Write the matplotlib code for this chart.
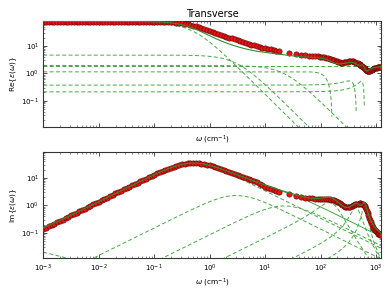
import numpy as np
import matplotlib
matplotlib.use("Agg")
import matplotlib.pyplot as plt
from matplotlib.ticker import FixedLocator, LogLocator, NullFormatter, LogFormatterSciNotation

# ---------------- data ----------------
# low-frequency set: log-spaced sampling 1e-3 ... 10**1.25 cm^-1
w_lo = np.logspace(-3, 1.25, 86)
re_lo = [74.6, 74.6, 74.6, 74.6, 74.6, 74.6, 74.6, 74.6, 74.6, 74.6,
         74.6, 74.6, 74.6, 74.6, 74.6, 74.6, 74.6, 74.6, 74.6, 74.6,
         74.6, 74.6, 74.6, 74.5, 74.5, 74.5, 74.5, 74.4, 74.4, 74.4,
         74.3, 74.3, 74.2, 74.2, 74.1, 74.1, 74.0, 73.9, 73.8, 73.7,
         73.6, 73.4, 73.2, 73.0, 72.7, 72.4, 72.0, 71.3, 70.4, 68.4,
         66.0, 63.2, 60.3, 57.3, 54.3, 51.6, 49.0, 45.5, 42.2, 38.7,
         35.5, 32.5, 29.9, 27.6, 25.5, 23.6, 21.8, 20.1, 18.6, 17.3,
         16.0, 14.9, 13.8, 12.9, 12.0, 11.2, 10.5, 9.8, 9.2, 8.7,
         8.2, 7.8, 7.4, 7.0, 6.7, 6.4]
im_lo = [0.138, 0.154, 0.173, 0.194, 0.218, 0.245, 0.275, 0.308, 0.346, 0.388,
         0.435, 0.488, 0.548, 0.615, 0.690, 0.774, 0.868, 0.974, 1.093, 1.226,
         1.376, 1.544, 1.732, 1.944, 2.179, 2.44, 2.74, 3.07, 3.45, 3.87,
         4.33, 4.86, 5.44, 6.09, 6.82, 7.64, 8.55, 9.55, 10.66, 11.89,
         13.23, 14.70, 16.29, 18.02, 19.83, 21.74, 23.71, 25.70, 27.66, 29.51,
         31.20, 32.63, 33.73, 34.46, 34.75, 34.61, 34.04, 33.09, 31.82, 30.31,
         28.67, 26.89, 25.08, 23.29, 21.55, 19.89, 18.32, 16.87, 15.50, 14.24,
         13.07, 11.98, 10.97, 10.04, 9.19, 8.37, 7.64, 6.99, 6.13, 5.45,
         4.84, 4.36, 3.93, 3.57, 3.27, 3.03]

# high-frequency set
w_hi = [27, 36, 44, 53, 62, 71, 80, 89, 98, 107, 116, 125, 135, 145, 155, 165,
        175, 185, 195, 205, 218, 232, 246, 260, 275, 290, 305, 320, 340, 360,
        380, 400, 420, 440, 460, 480, 500, 520, 540, 560, 580, 600, 620, 640,
        660, 680, 700, 725, 750, 775, 800, 830, 860, 890, 920, 950, 985, 1020,
        1055, 1090, 1125, 1160, 1195]
re_hi = [5.3, 5.0, 4.8, 4.6, 4.45, 4.3, 4.2, 4.1, 4.0, 3.9, 3.8, 3.7, 3.6, 3.45,
         3.3, 3.15, 3.0, 2.85, 2.7, 2.6, 2.5, 2.45, 2.45, 2.5, 2.55, 2.6, 2.65,
         2.7, 2.75, 2.75, 2.7, 2.6, 2.5, 2.4, 2.3, 2.2, 2.1, 2.0, 1.9, 1.8, 1.7,
         1.6, 1.5, 1.4, 1.32, 1.26, 1.22, 1.2, 1.22, 1.26, 1.3, 1.35, 1.4, 1.45,
         1.5, 1.53, 1.57, 1.6, 1.63, 1.66, 1.69, 1.71, 1.73]
im_hi = [2.6, 2.15, 1.98, 1.9, 1.86, 1.82, 1.78, 1.75, 1.73, 1.72, 1.72, 1.72,
         1.71, 1.69, 1.65, 1.6, 1.54, 1.47, 1.39, 1.3, 1.2, 1.1, 1.02, 0.96,
         0.91, 0.88, 0.87, 0.88, 0.91, 0.96, 1.01, 1.06, 1.1, 1.13, 1.16, 1.18,
         1.19, 1.19, 1.18, 1.16, 1.12, 1.05, 0.96, 0.86, 0.75, 0.64, 0.54, 0.44,
         0.36, 0.3, 0.25, 0.2, 0.17, 0.15, 0.135, 0.125, 0.115, 0.107, 0.1,
         0.095, 0.09, 0.086, 0.082]

# ---------------- fit model parameters ----------------
eps_inf = 1.9
debye_deps = [68.0, 4.6, 1.92]
debye_w0 = [0.5, 3.0, 22.0]
lor_deps = [1.13, 0.37, 0.21]
lor_w0 = [160.0, 440.0, 615.0]
lor_gamma = [150.0, 200.0, 143.0]
tail_amp = 0.02      # Im value at 1e-3 cm^-1
tail_exp = 0.5

xlim = (1e-3, 1200)
ylim_re = (0.011, 79)
ylim_im = (0.012, 86)
xticks = [1e-3, 1e-2, 1e-1, 1e0, 1e1, 1e2, 1e3]
yticks = [1e-1, 1e0, 1e1]

w = np.logspace(-3, np.log10(1250), 1000)
relax = [d / (1 - 1j * w / w0) for d, w0 in zip(debye_deps, debye_w0)]
osc = [d * w0**2 / (w0**2 - w**2 - 1j * g * w)
       for d, w0, g in zip(lor_deps, lor_w0, lor_gamma)]
comps = relax + osc
tail = 1j * tail_amp * (w / 1e-3) ** (-tail_exp)
total = eps_inf + sum(comps) + tail
relax_sum = sum(relax)


def pos(v):
    v = np.asarray(v, dtype=float)
    return np.where(v > 0, v, np.nan)


plt.rcParams['font.family'] = ['DejaVu Sans']
plt.rcParams['mathtext.fontset'] = 'dejavusans'
fig = plt.figure(figsize=(3.92, 2.95), dpi=100)
ax1 = fig.add_axes([0.1105, 0.5695, 0.8605, 0.3585])
ax2 = fig.add_axes([0.1105, 0.1244, 0.8605, 0.3593])

dash_kw = dict(color='#45a845', lw=0.7, ls=(0, (4, 2.5)), zorder=2)
data_kw = dict(ls='none', marker='o', ms=3.8, mfc='#ee1111', mec='#5a0a0a',
               mew=0.45, zorder=3)
fit_kw = dict(color='#2f8f2f', lw=0.8, zorder=4)

# Re panel
ax1.plot(w, np.full_like(w, eps_inf), **dash_kw)
for c in comps:
    ax1.plot(w, pos(c.real), **dash_kw)
ax1.plot(w_lo, re_lo, **data_kw)
ax1.plot(w_hi, re_hi, **data_kw)
ax1.plot(w, pos(total.real), **fit_kw)

# Im panel
for c in comps:
    ax2.plot(w, pos(c.imag), **dash_kw)
ax2.plot(w, pos(tail.imag), **dash_kw)
ax2.plot(w, pos(relax_sum.imag), color='#45a845', lw=0.7, zorder=2)
ax2.plot(w_lo, im_lo, **data_kw)
ax2.plot(w_hi, im_hi, **data_kw)
ax2.plot(w, pos(total.imag), **fit_kw)

fs = 5.0
for ax, yl, lab in ((ax1, ylim_re, r'Re$\{\epsilon(\omega)\}$'),
                    (ax2, ylim_im, r'Im$\{\epsilon(\omega)\}$')):
    ax.set_xscale('log')
    ax.set_yscale('log')
    ax.set_xlim(*xlim)
    ax.set_ylim(*yl)
    ax.set_ylabel(lab, fontsize=5.3, labelpad=1.5)
    ax.set_xlabel(r'$\omega$ (cm$^{-1}$)', fontsize=5.3, labelpad=2)
    ax.xaxis.set_major_locator(FixedLocator(xticks))
    ax.yaxis.set_major_locator(FixedLocator(yticks))
    ax.xaxis.set_major_formatter(LogFormatterSciNotation())
    ax.yaxis.set_major_formatter(LogFormatterSciNotation())
    ax.xaxis.set_minor_locator(LogLocator(base=10, subs=np.arange(2, 10), numticks=20))
    ax.yaxis.set_minor_locator(LogLocator(base=10, subs=np.arange(2, 10), numticks=20))
    ax.xaxis.set_minor_formatter(NullFormatter())
    ax.yaxis.set_minor_formatter(NullFormatter())
    ax.tick_params(which='both', direction='in', top=True, right=True,
                   labelsize=fs, pad=3, color='#333333')
    ax.tick_params(which='major', length=2.8, width=0.6)
    ax.tick_params(which='minor', length=1.4, width=0.4)
    for s in ax.spines.values():
        s.set_linewidth(0.8)
        s.set_color('#333333')

ax1.tick_params(labelbottom=False)
ax1.set_title('Transverse', fontsize=7, pad=3)

fig.savefig('out.png', dpi=100)
